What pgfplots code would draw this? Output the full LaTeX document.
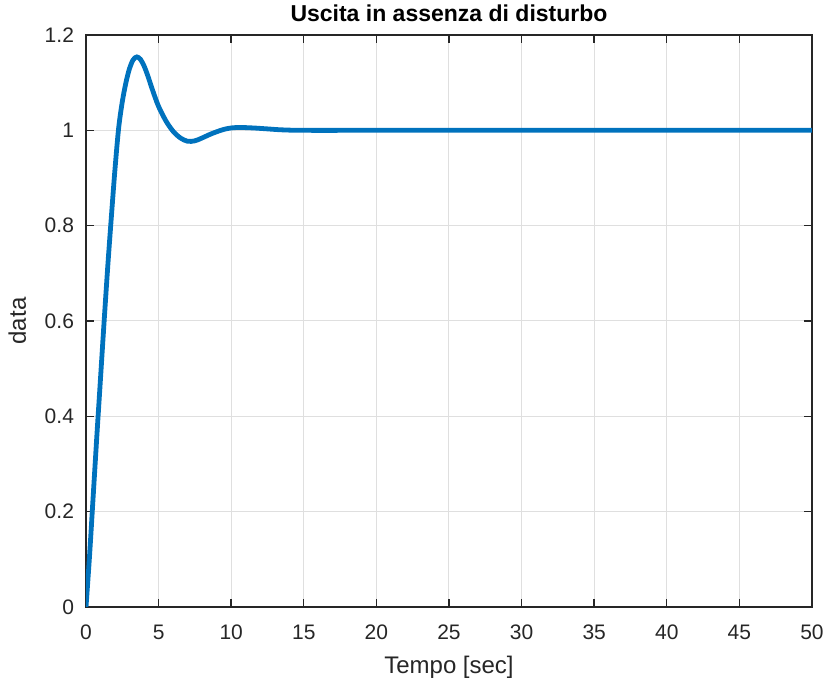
\documentclass[border=0pt]{standalone}
\usepackage{pgfplots}
\pgfplotsset{compat=1.18}
\usepackage{fontspec}
\setmainfont{Liberation Sans}
\definecolor{mblue}{RGB}{0,114,189}
\definecolor{axgray}{RGB}{38,38,38}
\definecolor{gridgray}{RGB}{223,223,223}
\pgfplotstableread{
t y
0 0
0.25 0.11
0.5 0.235
0.75 0.36
1.0 0.48
1.25 0.60
1.5 0.715
1.75 0.82
2.0 0.92
2.25 1.005
2.5 1.06
2.75 1.10
3.0 1.13
3.25 1.148
3.5 1.154
3.75 1.149
4.0 1.135
4.25 1.115
4.5 1.092
4.75 1.07
5.0 1.05
5.5 1.02
6.0 0.998
6.5 0.984
7.0 0.977
7.5 0.978
8.0 0.984
8.5 0.991
9.0 0.997
9.5 1.002
10.0 1.005
10.6 1.006
11.5 1.005
12.5 1.003
13.5 1.001
15 1.0
20 1.0
30 1.0
40 1.0
50 1.0
}\datatable
\begin{document}
\begin{tikzpicture}
\begin{axis}[
  scale only axis,
  width=363pt, height=286pt,
  xmin=0, xmax=50, ymin=0, ymax=1.2,
  xtick={0,5,...,50},
  ytick={0,0.2,...,1.2},
  yticklabels={0,0.2,0.4,0.6,0.8,1,1.2},
  grid=major,
  major grid style={gridgray, line width=0.5pt},
  axis line style={axgray, line width=0.7pt},
  tick style={axgray, line width=0.7pt},
  tick align=inside,
  major tick length=4pt,
  xtick pos=both, ytick pos=both,
  ticklabel style={font=\fontsize{10.5}{12}\selectfont, text=axgray},
  /pgf/number format/assume math mode=true,
  xticklabel style={yshift=-5.5pt},
  yticklabel style={xshift=-2.5pt},
  title={\textbf{Uscita in assenza di disturbo}},
  title style={font=\fontsize{11.5}{13}\selectfont, yshift=-3pt},
  xlabel={Tempo [sec]},
  ylabel={data},
  label style={font=\fontsize{12}{14}\selectfont, text=axgray},
  xlabel style={yshift=-1pt},
  ylabel style={yshift=2.5pt},
]
\addplot[mblue, line width=2.4pt, smooth, tension=0.5] table[x=t,y=y] {\datatable};
\end{axis}
\pgfresetboundingbox
\path (-43pt,-36.5pt) rectangle (370.5pt,303.5pt);
\end{tikzpicture}
\end{document}
